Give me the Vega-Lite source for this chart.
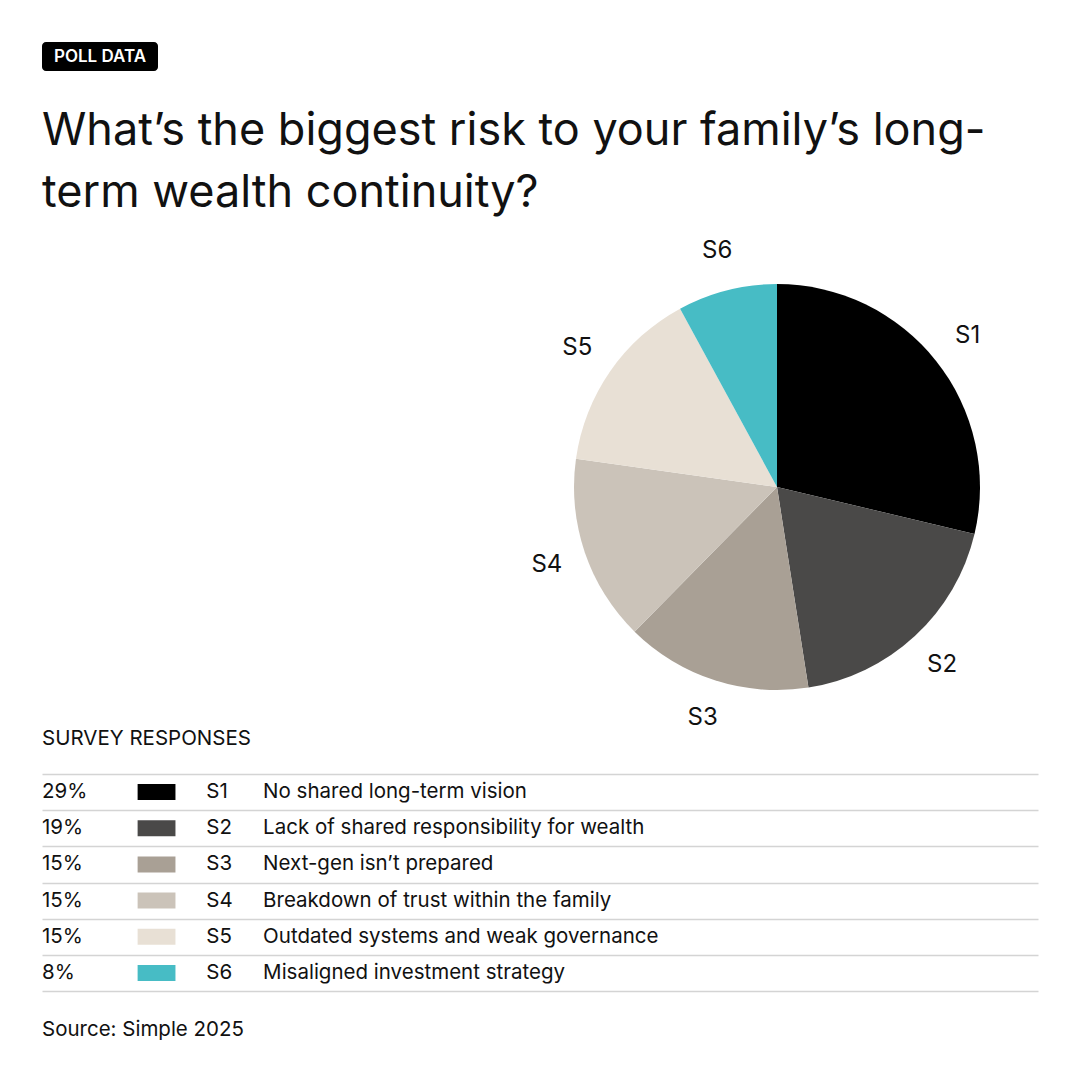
{
  "$schema": "https://vega.github.io/schema/vega-lite/v6.json",
  "description": "Poll: biggest risk to long-term family wealth continuity, pie plus response table.",
  "background": "#ffffff",
  "padding": {"left": 42, "top": 42, "right": 42, "bottom": 20},
  "bounds": "flush",
  "title": {
    "text": "Source: Simple 2025",
    "orient": "bottom",
    "anchor": "start",
    "baseline": "alphabetic",
    "offset": 45,
    "fontSize": 20.5,
    "fontWeight": "normal",
    "color": "#111111"
  },
  "data": {
    "values": [
      {"code": "S1", "share": 0.29, "label": "No shared long-term vision"},
      {"code": "S2", "share": 0.19, "label": "Lack of shared responsibility for wealth"},
      {"code": "S3", "share": 0.15, "label": "Next-gen isn’t prepared"},
      {"code": "S4", "share": 0.15, "label": "Breakdown of trust within the family"},
      {"code": "S5", "share": 0.15, "label": "Outdated systems and weak governance"},
      {"code": "S6", "share": 0.08, "label": "Misaligned investment strategy"}
    ]
  },
  "spacing": 213,
  "vconcat": [
    {
      "width": 116,
      "height": 29,
      "view": {"fill": "#000000", "cornerRadius": 4, "stroke": null},
      "data": {"values": [{"tag": "POLL DATA"}]},
      "title": {
        "text": ["What’s the biggest risk to your family’s long-", "term wealth continuity?"],
        "orient": "bottom",
        "anchor": "start",
        "frame": "group",
        "baseline": "alphabetic",
        "offset": 74,
        "fontSize": 45,
        "fontWeight": "normal",
        "lineHeight": 62,
        "color": "#111111"
      },
      "mark": {"type": "text", "color": "#ffffff", "fontSize": 17, "fontWeight": 600},
      "encoding": {"text": {"field": "tag"}}
    },
    {
      "spacing": -3,
      "vconcat": [
        {
          "spacing": 0,
          "bounds": "flush",
          "hconcat": [
            {
              "width": 532,
              "height": 406,
              "data": {"values": []},
              "mark": {"type": "text"}
            },
            {
              "width": 406,
              "height": 406,
              "encoding": {
                "theta": {"field": "share", "type": "quantitative", "stack": true},
                "order": {"field": "code"},
                "color": {
                  "field": "code",
                  "type": "nominal",
                  "scale": {
                    "domain": ["S1", "S2", "S3", "S4", "S5", "S6"],
                    "range": ["#000000", "#4a4948", "#a9a095", "#cbc3b9", "#e8e0d5", "#47bcc5"]
                  },
                  "legend": null
                }
              },
              "layer": [
                {"mark": {"type": "arc"}},
                {
                  "mark": {"type": "text", "radius": 243, "fontSize": 24, "color": "#111111"},
                  "encoding": {"text": {"field": "code"}, "color": {"value": "#111111"}}
                }
              ]
            }
          ]
        },
        {
          "width": 996,
          "height": 217,
          "title": {
            "text": "SURVEY RESPONSES",
            "anchor": "start",
            "frame": "group",
            "baseline": "alphabetic",
            "offset": 9,
            "fontSize": 20.5,
            "fontWeight": "normal",
            "color": "#111111"
          },
          "encoding": {
            "y": {
              "field": "code",
              "type": "nominal",
              "title": null,
              "scale": {"paddingInner": 0, "paddingOuter": 0}
            }
          },
          "layer": [
            {
              "mark": {"type": "text", "align": "left", "baseline": "middle", "fontSize": 20.5, "color": "#111111"},
              "encoding": {
                "x": {"datum": 0, "type": "quantitative", "scale": {"domain": [0, 996]}, "axis": null},
                "text": {"field": "share", "format": ".0%"}
              }
            },
            {
              "mark": {"type": "bar", "height": 16},
              "encoding": {
                "x": {"datum": 96, "type": "quantitative", "axis": null},
                "x2": {"datum": 134},
                "color": {
                  "field": "code",
                  "type": "nominal",
                  "scale": {
                    "domain": ["S1", "S2", "S3", "S4", "S5", "S6"],
                    "range": ["#000000", "#4a4948", "#a9a095", "#cbc3b9", "#e8e0d5", "#47bcc5"]
                  },
                  "legend": null
                }
              }
            },
            {
              "mark": {"type": "text", "align": "left", "baseline": "middle", "fontSize": 20.5, "color": "#111111"},
              "encoding": {
                "x": {"datum": 165, "type": "quantitative", "axis": null},
                "text": {"field": "code"}
              }
            },
            {
              "mark": {"type": "text", "align": "left", "baseline": "middle", "fontSize": 20.5, "color": "#111111"},
              "encoding": {
                "x": {"datum": 222, "type": "quantitative", "axis": null},
                "text": {"field": "label"}
              }
            }
          ]
        }
      ]
    }
  ],
  "config": {
    "font": "Inter",
    "view": {"stroke": null},
    "title": {"color": "#111111"},
    "axisY": {
      "labels": false,
      "ticks": false,
      "domain": false,
      "grid": true,
      "tickBand": "extent",
      "gridColor": "#d4d4d4",
      "gridWidth": 1.5
    }
  }
}
